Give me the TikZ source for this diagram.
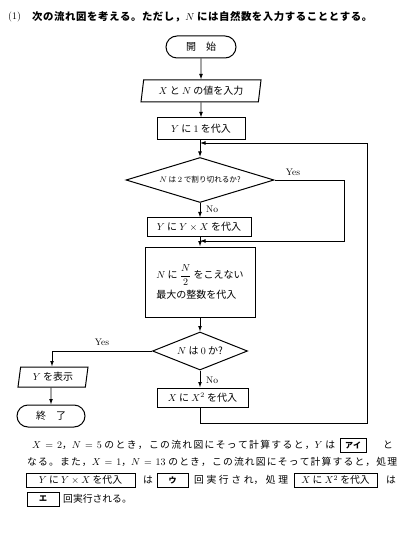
\documentclass[tikz,border=0pt]{standalone}
\usepackage{amsmath}
\usepackage[no-math]{fontspec}
\newfontfamily\jp{Noto Sans CJK JP}
\usetikzlibrary{shapes.geometric,shapes.misc,arrows.meta}
% stretchable glue between Japanese characters
\XeTeXinterchartokenstate=1
\newXeTeXintercharclass\jpclass
\makeatletter
\def\setjpclass#1#2{\count@=#1\relax
  \loop\XeTeXcharclass\count@=\jpclass\relax
  \ifnum\count@<#2\relax\advance\count@ by 1\relax\repeat}
\setjpclass{"3000}{"30FF}
\setjpclass{"4E00}{"9FFF}
\setjpclass{"FF00}{"FFEF}
\makeatother
\XeTeXinterchartoks\jpclass\jpclass={\hskip 0pt plus 3pt minus 0.5pt\relax}
\tikzset{
  jpten/.style={font=\jp\fontsize{10}{12}\selectfont},
  flow/.style={line width=0.8pt},
  arr/.style={flow,-{Latex[length=5.5pt,width=3.8pt]}},
  procbox/.style={draw,line width=1pt,rectangle,inner sep=0pt,jpten},
  termbox/.style={draw,line width=1pt,rounded rectangle,inner sep=0pt,jpten},
  iobox/.style={draw,line width=1pt,trapezium,trapezium left angle=74,trapezium right angle=106,trapezium stretches body,inner sep=0pt,jpten},
  decbox/.style={draw,line width=1pt,diamond,inner sep=0pt,jpten},
  lbl/.style={font=\fontsize{9.5}{11}\selectfont,inner sep=0pt},
  txt/.style={anchor=west,inner sep=0pt,font=\jp\fontsize{9.8}{12}\selectfont},
  ansbox/.style={draw,line width=1pt,rectangle,inner sep=0pt,minimum height=14pt,font=\jp\fontsize{9.8}{12}\selectfont},
  anslbl/.style={ansbox,font=\jp\bfseries\fontsize{8}{10}\selectfont}
}
\begin{document}
\begin{tikzpicture}[x=1pt,y=-1pt]
\useasboundingbox (0,0) rectangle (404,534);
% title
\node[anchor=west,inner sep=0pt,font=\fontsize{10}{12}\selectfont] (num) at (8,17) {(1)};
\node[anchor=west,inner sep=0pt,font=\jp\bfseries\fontsize{10.4}{12}\selectfont] (title) at (32,17)
  {\makebox[340pt][s]{次の流れ図を考える。ただし，$N$ には自然数を入力することとする。}};
% flowchart nodes
\node[termbox,minimum width=70pt,minimum height=22pt] (start) at (201,47) {開\hspace{1em}始};
\node[iobox,minimum width=120pt,minimum height=22pt] (input) at (201,91) {$X$ と $N$ の値を入力};
\node[procbox,minimum width=88pt,minimum height=22pt] (a1) at (201,129) {$Y$ に $1$ を代入};
\coordinate (j1) at (200,143);
\node[decbox,aspect=3.3,minimum width=148pt,minimum height=45pt,font=\jp\fontsize{7.6}{9}\selectfont] (d1) at (200,180) {$N$ は $2$ で割り切れるか?};
\node[procbox,minimum width=104pt,minimum height=18pt] (a2) at (199,227) {$Y$ に $Y\times X$ を代入};
\coordinate (j2) at (200,241);
\node[procbox,minimum width=110pt,minimum height=70pt,align=left] (p) at (200,282)
  {$N$ に $\dfrac{N}{2}$ をこえない\\[4pt]最大の整数を代入};
\node[decbox,aspect=2.5,minimum width=95pt,minimum height=38pt] (d2) at (200,351) {$N$ は $0$ か?};
\node[procbox,minimum width=91pt,minimum height=19pt] (a3) at (202.5,397.5) {$X$ に $X^{2}$ を代入};
\node[iobox,minimum width=70pt,minimum height=20pt] (show) at (53,377) {$Y$ を表示};
\node[termbox,minimum width=68pt,minimum height=22pt] (end) at (51,416) {終\hspace{1em}了};
\coordinate (c1) at (344,180);
\coordinate (c2) at (344,241);
\coordinate (r1) at (200,423);
\coordinate (r2) at (367,423);
\coordinate (r3) at (367,143);
\coordinate (y2) at (52,351);
% connectors
\draw[arr] (start) -- (input);
\draw[arr] (input) -- (a1);
\draw[arr] (a1.south -| j1) -- (j1 |- d1.north);
\draw[arr] (d1.south) -- (d1.south |- a2.north);
\draw[arr] (a2.south -| j2) -- (j2 |- p.north);
\draw[arr] (p) -- (d2);
\draw[arr] (d2.south) -- (d2.south |- a3.north);
\draw[arr] (d1.east) -- (c1) -- (c2) -- (j2);
\draw[arr] (d2.west) -- (y2) -- (show.north -| y2);
\draw[arr] (show.south -| end) -- (end);
\draw[arr] (a3.south -| r1) -- (r1) -- (r2) -- (r3) -- (j1);
% labels
\node[lbl] (yes1) at (293,172) {Yes};
\node[lbl,anchor=west] (no1) at (206,209) {No};
\node[lbl] (yes2) at (102,342) {Yes};
\node[lbl,anchor=west] (no2) at (206,380) {No};
% text below
\node[txt] (t1) at (32,445) {\makebox[303pt][s]{$X=2$，$N=5$ のとき，この流れ図にそって計算すると，$Y$ は}};
\node[anslbl,minimum width=26pt] (b1) at (353,445) {アイ};
\node[txt] (t1b) at (383,445) {と};
\node[txt] (t2) at (27,462) {\makebox[370pt][s]{なる。また，$X=1$，$N=13$ のとき，この流れ図にそって計算すると，処理}};
\node[ansbox,minimum width=109pt] (b2) at (80.5,480) {$Y$ に $Y\times X$ を代入};
\node[txt] (t3a) at (143,480) {は};
\node[anslbl,minimum width=31pt] (b3) at (172.5,480) {ウ};
\node[txt] (t3b) at (194,480) {\makebox[94pt][s]{回\hfill 実\hfill 行\hfill さ\hfill れ，\hfill 処\hfill 理}};
\node[ansbox,minimum width=83pt] (b4) at (335.5,480) {$X$ に $X^{2}$ を代入};
\node[txt] (t3c) at (386,480) {は};
\node[anslbl,minimum width=32pt] (b5) at (43,499) {エ};
\node[txt] (t4) at (63,499) {回実行される。};
\end{tikzpicture}
\end{document}
